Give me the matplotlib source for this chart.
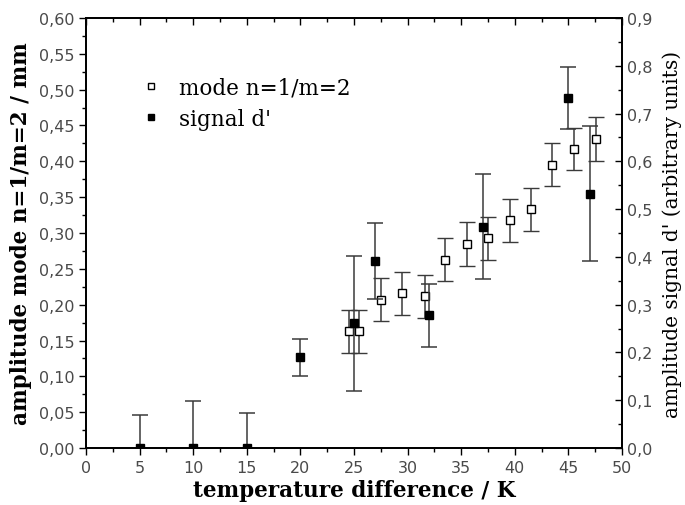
import matplotlib
matplotlib.use('Agg')
import matplotlib.pyplot as plt
from matplotlib.ticker import MultipleLocator, FuncFormatter
from matplotlib.lines import Line2D

# mode n=1/m=2 (left axis, mm)
mode_x = [24.5, 25.5, 27.5, 29.5, 31.6, 33.5, 35.5, 37.5, 39.6, 41.5, 43.5, 45.5, 47.6]
mode_y = [0.163, 0.163, 0.207, 0.216, 0.212, 0.263, 0.285, 0.293, 0.318, 0.333, 0.395, 0.417, 0.431]
mode_err = [0.030, 0.030, 0.030, 0.030, 0.030, 0.030, 0.031, 0.030, 0.030, 0.030, 0.030, 0.029, 0.031]

# signal d' (right axis, arbitrary units)
signal_x = [5, 10, 15, 20, 25, 27, 32, 37, 45, 47]
signal_y = [0.0, 0.0, 0.0, 0.190, 0.261, 0.391, 0.278, 0.463, 0.732, 0.532]
signal_err = [0.070, 0.099, 0.073, 0.039, 0.141, 0.079, 0.066, 0.110, 0.065, 0.141]

label_font = 'DejaVu Serif'
tick_color = '#4a4a4a'
err_color = '#3a3a3a'


def comma_fmt(decimals):
    return FuncFormatter(lambda v, pos: f'{v:.{decimals}f}'.replace('.', ','))


fig = plt.figure(figsize=(6.85, 5.06), dpi=100)
ax = fig.add_axes([0.1255, 0.1126, 0.7825, 0.8499])
ax2 = ax.twinx()

# open squares: mode
ax.errorbar(mode_x, mode_y, yerr=mode_err, fmt='s', ms=6, mfc='white', mec='black',
            mew=1.0, ecolor=err_color, elinewidth=1.1, capsize=6, capthick=1.1, zorder=3)

# filled squares: signal d'
ax2.errorbar(signal_x, signal_y, yerr=signal_err, fmt='s', ms=6, mfc='black', mec='black',
             ecolor=err_color, elinewidth=1.1, capsize=6, capthick=1.1, zorder=3)

ax.set_xlim(0, 50)
ax.set_ylim(0, 0.6)
ax2.set_ylim(0, 0.9)

ax.xaxis.set_major_locator(MultipleLocator(5))
ax.xaxis.set_minor_locator(MultipleLocator(2.5))
ax.yaxis.set_major_locator(MultipleLocator(0.05))
ax.yaxis.set_minor_locator(MultipleLocator(0.025))
ax.yaxis.set_major_formatter(comma_fmt(2))
ax2.yaxis.set_major_locator(MultipleLocator(0.1))
ax2.yaxis.set_minor_locator(MultipleLocator(0.05))
ax2.yaxis.set_major_formatter(comma_fmt(1))

ax.tick_params(axis='both', which='major', direction='out', length=5, width=1,
               labelsize=11.5, labelcolor=tick_color)
ax.tick_params(axis='both', which='minor', direction='out', length=3, width=1)
ax.tick_params(axis='x', which='both', top=True)
ax2.tick_params(axis='y', which='major', direction='in', length=5, width=1,
                labelsize=11.5, labelcolor=tick_color)
ax2.tick_params(axis='y', which='minor', direction='in', length=3, width=1)

# top ticks point inward
for t in ax.xaxis.get_major_ticks() + ax.xaxis.get_minor_ticks():
    t.tick2line.set_marker(3)

for a in (ax, ax2):
    for s in a.spines.values():
        s.set_linewidth(1.3)

ax.set_xlabel('temperature difference / K', fontsize=15.5, fontfamily=label_font,
              fontweight='bold', labelpad=3)
ax.set_ylabel('amplitude mode n=1/m=2 / mm', fontsize=15.5, fontfamily=label_font,
              fontweight='bold', labelpad=5)
ax2.set_ylabel("amplitude signal d' (arbitrary units)", fontsize=14.5, fontfamily=label_font,
               labelpad=7)

handles = [
    Line2D([], [], ls='none', marker='s', ms=5, mfc='white', mec='black', mew=1.0),
    Line2D([], [], ls='none', marker='s', ms=5, mfc='black', mec='black'),
]
ax2.legend(handles, ['mode n=1/m=2', "signal d'"], loc='upper left',
           bbox_to_anchor=(0.07, 0.91), frameon=False, handlelength=0.8,
           handletextpad=0.9, labelspacing=0.45,
           prop={'family': label_font, 'size': 15.5})

fig.savefig('out.png', dpi=100)
